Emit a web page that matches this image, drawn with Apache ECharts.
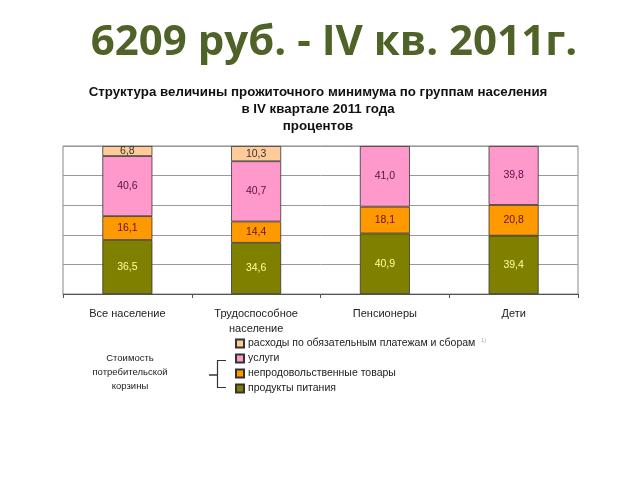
<!DOCTYPE html>
<html><head><meta charset="utf-8">
<script src="https://cdn.jsdelivr.net/npm/echarts@6/dist/echarts.min.js"></script>
<style>html,body{margin:0;padding:0;background:#fff}#c{width:640px;height:480px}</style>
</head><body><div id="c"></div>
<script>
var categories = ['Все население', 'Трудоспособное\nнаселение', 'Пенсионеры', 'Дети'];
var food = [36.5, 34.6, 40.9, 39.4];
var nonFood = [16.1, 14.4, 18.1, 20.8];
var services = [40.6, 40.7, 41.0, 39.8];
var payments = [6.8, 10.3, null, null];
var seriesNames = ['продукты питания', 'непродовольственные товары', 'услуги', 'расходы по обязательным платежам и сборам'];

var chart = echarts.init(document.getElementById('c'));
function fmt(p){ return p.value == null ? '' : p.value.toFixed(1).replace('.', ','); }
function mk(name, data, color, labelColor){
  return {
    name: name, type: 'bar', stack: 's', data: data, barWidth: 50,
    itemStyle: {color: color, borderColor: '#333', borderWidth: 0.8},
    label: {show: true, position: 'inside', formatter: fmt, color: labelColor, fontFamily: 'Liberation Sans', fontSize: 10.5},
    emphasis: {disabled: true}
  };
}
chart.setOption({
  animation: false,
  backgroundColor: '#fff',
  title: [
    {text: '6209 руб. - IV кв. 2011г.', left: 329, top: 17, textAlign: 'center',
     textStyle: {fontFamily: 'Open Sans', fontWeight: 'bold', fontSize: 42, color: '#4F6228'}},
    {text: 'Структура величины прожиточного минимума по группам населения\nв IV квартале 2011 года\nпроцентов', left: 313, top: 79, textAlign: 'center',
     textStyle: {fontFamily: 'Liberation Sans', fontWeight: 'bold', fontSize: 13.3, color: '#111', lineHeight: 17}}
  ],
  grid: {left: 63, right: 62, top: 146, bottom: 186, show: true, borderColor: '#888', borderWidth: 1, backgroundColor: '#fff'},
  legend: {
    orient: 'vertical', left: 230, top: 333, itemWidth: 8, itemHeight: 8, itemGap: 4, icon: 'rect',
    data: [seriesNames[3], seriesNames[2], seriesNames[1], seriesNames[0]],
    textStyle: {fontFamily: 'Liberation Sans', fontSize: 10.5, color: '#222', padding: [0, 0, 0, -1]},
    selectedMode: false
  },
  xAxis: {
    type: 'category', data: categories,
    axisLine: {lineStyle: {color: '#555'}},
    axisTick: {show: true, length: 4, lineStyle: {color: '#555'}},
    axisLabel: {fontFamily: 'Liberation Sans', fontSize: 11, color: '#222', margin: 12, lineHeight: 15}
  },
  yAxis: {
    type: 'value', min: 0, max: 100, interval: 20,
    axisLabel: {show: false}, axisLine: {show: false}, axisTick: {show: false},
    splitLine: {lineStyle: {color: '#999', width: 1}}
  },
  series: [
    mk(seriesNames[0], food, '#808000', '#FFFF99'),
    mk(seriesNames[1], nonFood, '#FF9900', '#661100'),
    mk(seriesNames[2], services, '#FF99CC', '#551144'),
    mk(seriesNames[3], payments, '#FFCC99', '#333')
  ],
  graphic: [
    {type: 'text', x: 130, y: 351, style: {text: 'Стоимость\nпотребительской\nкорзины', align: 'center', font: '9.5px Liberation Sans', fill: '#222', lineHeight: 14}},
    {type: 'polyline', shape: {points: [[226, 360.5], [217.5, 360.5], [217.5, 387.5], [226, 387.5]]}, style: {stroke: '#333', lineWidth: 1.2, fill: null}},
    {type: 'line', shape: {x1: 209, y1: 375, x2: 217.5, y2: 375}, style: {stroke: '#333', lineWidth: 1.5}},
    {type: 'text', x: 481, y: 337, style: {text: '1)', font: '6px Liberation Sans', fill: '#aaa'}}
  ]
});
</script></body></html>
